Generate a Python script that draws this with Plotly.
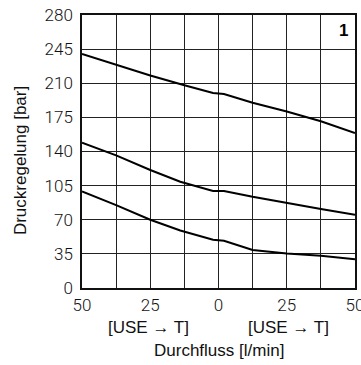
import plotly.graph_objects as go

# Flow (negative = left half, shown as absolute values) and regulated pressure
flow_top = [-50, -37.5, -25, -12.5, -2, 2, 12.5, 25, 37.5, 50]
p_top = [240, 229, 218, 208, 200, 199, 190, 181, 171, 159]

flow_mid = [-50, -37.5, -25, -14, -2, 2, 12.5, 25, 37.5, 50]
p_mid = [149, 136, 121, 109, 99.5, 99.5, 93.5, 87, 81, 75]

flow_low = [-50, -37.5, -25, -14, -2, 2, 12.5, 25, 37.5, 50]
p_low = [99, 85, 70, 59, 49.5, 48.5, 39, 35.5, 33, 29.5]

x_ticks = [-50, -37.5, -25, -12.5, 0, 12.5, 25, 37.5, 50]
x_labels = ["50", "", "25", "", "0", "", "25", "", "50"]
y_ticks = [0, 35, 70, 105, 140, 175, 210, 245, 280]

tick_font = dict(family="Roboto, Liberation Sans, sans-serif", size=17, weight=300, color="#111")
label_font = dict(family="Liberation Sans, Arial, sans-serif", size=17, color="#111")

fig = go.Figure()
for xs, ys in [(flow_top, p_top), (flow_mid, p_mid), (flow_low, p_low)]:
    fig.add_trace(go.Scatter(x=xs, y=ys, mode="lines",
                             line=dict(color="black", width=2),
                             showlegend=False, hoverinfo="skip"))

fig.update_layout(
    width=361, height=365,
    margin=dict(l=82, r=6, t=15, b=77, autoexpand=False),
    paper_bgcolor="white", plot_bgcolor="white",
    xaxis=dict(range=[-50, 50], tickvals=x_ticks, ticktext=x_labels,
               showgrid=True, gridcolor="#222", gridwidth=1.2,
               showline=True, linecolor="#111", linewidth=1.5, mirror=True,
               zeroline=False, ticks="", tickfont=tick_font, ticklabelstandoff=1,
               ticklabeloverflow="allow", automargin=False),
    yaxis=dict(range=[0, 280], tickvals=y_ticks,
               showgrid=True, gridcolor="#222", gridwidth=1.2,
               showline=True, linecolor="#111", linewidth=1.5, mirror=True,
               zeroline=False, ticks="", tickfont=tick_font, ticklabelstandoff=4,
               ticklabeloverflow="allow", automargin=False),
)

fig.add_annotation(x=0.98, y=0.985, xref="paper", yref="paper", text="<b>1</b>",
                   showarrow=False, xanchor="right", yanchor="top",
                   font=dict(family="Liberation Sans, Arial, sans-serif", size=17, color="black"))
fig.add_annotation(x=-25.5, y=-0.143, xref="x", yref="paper", text="[USE → T]",
                   showarrow=False, yanchor="middle", font=label_font)
fig.add_annotation(x=25.5, y=-0.143, xref="x", yref="paper", text="[USE → T]",
                   showarrow=False, yanchor="middle", font=label_font)
fig.add_annotation(x=0.5, y=-0.23, xref="paper", yref="paper", text="Durchfluss [l/min]",
                   showarrow=False, yanchor="middle", font=label_font)
fig.add_annotation(x=-0.227, y=0.465, xref="paper", yref="paper", text="Druckregelung [bar]",
                   showarrow=False, textangle=-90, xanchor="center", yanchor="middle",
                   font=label_font)

fig.write_html("out.html")
